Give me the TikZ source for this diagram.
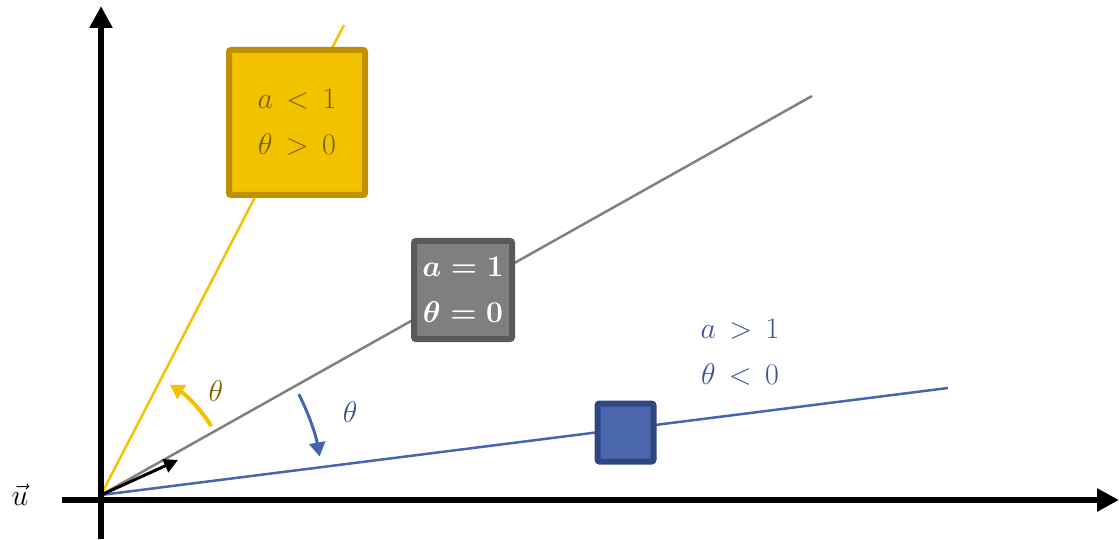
\RequirePackage{fix-cm}
\documentclass[tikz,border=0pt]{standalone}
\usetikzlibrary{arrows.meta}
\definecolor{ylw}{HTML}{F2C200}
\definecolor{ylwdark}{HTML}{BF9000}
\definecolor{ylwtext}{HTML}{7F6000}
\definecolor{gryfill}{HTML}{7F7F7F}
\definecolor{grydark}{HTML}{5A5A5A}
\definecolor{bluefill}{HTML}{4A67AE}
\definecolor{bluedark}{HTML}{2F4680}
\definecolor{blueline}{HTML}{4465B0}
\definecolor{bluetext}{HTML}{3A5591}
\begin{document}
\begin{tikzpicture}[x=1pt,y=1pt,
  axis/.style={line width=6pt,-{Triangle[length=22pt,width=22pt]}},
  box/.style={rounded corners=2pt,line width=6pt,inner sep=0pt,align=center,font=\fontsize{30}{46}\selectfont},
  lbl/.style={font=\fontsize{30}{46}\selectfont,inner sep=0pt,align=center}]
\useasboundingbox (0,0) rectangle (1119,539);
\coordinate (O) at (101,44);
\coordinate (ytop) at (101,533);
\coordinate (ybot) at (101,0);
\coordinate (xl) at (62,39);
\coordinate (xr) at (1119,39);
\coordinate (yend) at (344,514);
\coordinate (gend) at (812,443);
\coordinate (bend) at (948,151);
% lines
\draw[ylw,line width=2.5pt] (O) -- (yend);
\draw[gray,line width=2.5pt] (O) -- (gend);
\draw[blueline,line width=2.5pt] (O) -- (bend);
% axes
\draw[axis] (ybot) -- (ytop);
\draw[axis] (xl) -- (xr);
% vector
\coordinate (vend) at (178,79);
\draw[line width=3pt,-{Triangle[length=14pt,width=14pt]}] (O) -- (vend);
\node[lbl] (u) at (20,44) {$\vec{u}$};
% boxes
\node[box,draw=ylwdark,fill=ylw,minimum width=136pt,minimum height=145pt,text=ylwtext] (yb) at (297,416.5) {$a\,<\,1$\\$\theta\,>\,0$};
\node[box,draw=grydark,fill=gryfill,minimum width=98pt,minimum height=98pt,text=white,font=\fontsize{30}{46}\selectfont\boldmath] (gb) at (463,249) {$a=1$\\$\theta=0$};
\node[box,draw=bluedark,fill=bluefill,minimum width=56pt,minimum height=58pt] (bb) at (625.5,106.5) {};
\node[lbl,text=bluetext] (bt) at (740,187) {$a\,>\,1$\\$\theta\,<\,0$};
% angle arrows
\draw[ylw,line width=4pt,-{Triangle[length=14pt,width=16pt]}] (O) ++(32:130) arc[start angle=32,end angle=58,radius=130];
\draw[blueline,line width=3pt,-{Triangle[length=14pt,width=16pt]}] (O) ++(27:222) arc[start angle=27,end angle=10,radius=222];
\node[lbl,text=ylwtext] (t1) at (216,148) {$\theta$};
\node[lbl,text=bluetext] (t2) at (350,127) {$\theta$};
\end{tikzpicture}
\end{document}
